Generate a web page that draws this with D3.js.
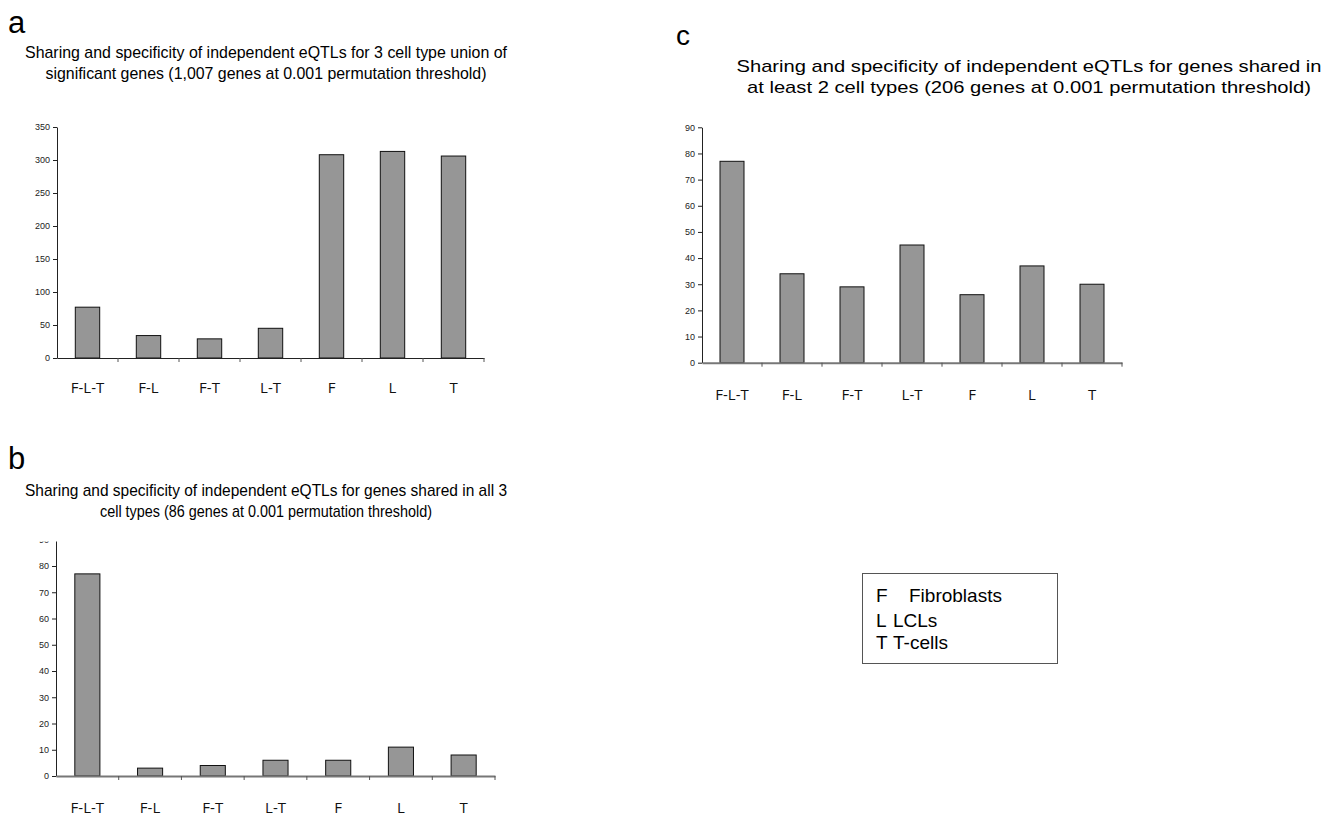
<!DOCTYPE html>
<html><head><meta charset="utf-8">
<script src="https://cdn.jsdelivr.net/npm/d3@7"></script>
<style>body{margin:0;background:#fff}</style>
</head><body>
<svg id="chart" width="1339" height="817"></svg>
<script>
const categories = ["F-L-T", "F-L", "F-T", "L-T", "F", "L", "T"];
const valuesA = [77, 34, 29, 45, 308, 313, 306];
const valuesB = [77, 3, 4, 6, 6, 11, 8];
const valuesC = [77, 34, 29, 45, 26, 37, 30];
const ticksA = [0, 50, 100, 150, 200, 250, 300, 350];
const ticksB = [0, 10, 20, 30, 40, 50, 60, 70, 80, 90];
const ticksC = [0, 10, 20, 30, 40, 50, 60, 70, 80, 90];
const titleA = ["Sharing and specificity of independent eQTLs for 3 cell type union of",
                "significant genes (1,007 genes at 0.001 permutation threshold)"];
const titleB = ["Sharing and specificity of independent eQTLs for genes shared in all 3",
                "cell types (86 genes at 0.001 permutation threshold)"];
const titleC = ["Sharing and specificity of independent eQTLs for genes shared in",
                "at least 2 cell types (206 genes at 0.001 permutation threshold)"];
const legendKeys = ["F", "L", "T"];
const legendNames = ["Fibroblasts", "LCLs", "T-cells"];

const svg = d3.select("#chart");
const defs = svg.append("defs");

const panels = [
  {id:"a", letter:"a", lx:8, ly:33, lsize:31, values:valuesA, ticks:ticksA, max:350,
   x0:57, x1:484, yTop:127, yBot:358, title:titleA, tcx:266, tb:[58,79], tw:[482,441], catY:393, clipTop:null},
  {id:"c", letter:"c", lx:676, ly:45, lsize:28, values:valuesC, ticks:ticksC, max:90,
   x0:702, x1:1122, yTop:127.3, yBot:362.7, title:titleC, tcx:1029, tb:[72,93], tw:[585,564], catY:400, clipTop:null},
  {id:"b", letter:"b", lx:8, ly:469, lsize:31, values:valuesB, ticks:ticksB, max:90,
   x0:56, x1:495, yTop:539.75, yBot:776, title:titleB, tcx:266, tb:[496,517], tw:[482,332], catY:813, clipTop:541.5}
];

function styleY(sel) {
  sel.selectAll("text").attr("font-family", "Liberation Sans, Arial, sans-serif").attr("font-size", 9).attr("fill", "#222");
  sel.selectAll("path,line").attr("stroke", "#222");
}

panels.forEach(p => {
  const g = svg.append("g");
  g.append("text").attr("x", p.lx).attr("y", p.ly).text(p.letter)
    .attr("font-family", "Liberation Sans, Arial, sans-serif").attr("font-size", p.lsize).attr("fill", "#000");
  p.title.forEach((t, i) => {
    g.append("text").attr("x", p.tcx).attr("y", p.tb[i]).attr("text-anchor", "middle")
      .attr("font-family", "Liberation Sans, Arial, sans-serif").attr("font-size", 17)
      .attr("textLength", p.tw[i]).attr("lengthAdjust", "spacingAndGlyphs")
      .attr("fill", "#000").text(t);
  });

  const xb = d3.scaleBand().domain(categories).range([p.x0, p.x1]);
  const y = d3.scaleLinear().domain([0, p.max]).range([p.yBot, p.yTop]);

  // y axis
  const ywrap = g.append("g");
  if (p.clipTop !== null) {
    defs.append("clipPath").attr("id", "clip" + p.id).append("rect")
      .attr("x", 0).attr("y", p.clipTop).attr("width", 600).attr("height", 300);
    ywrap.attr("clip-path", "url(#clip" + p.id + ")");
  }
  const yg = ywrap.append("g").attr("transform", `translate(${p.x0},0)`)
    .call(d3.axisLeft(y).tickValues(p.ticks).tickSize(4).tickSizeOuter(0).tickPadding(3));
  styleY(yg);

  // bars
  g.append("g").selectAll("rect").data(categories).join("rect")
    .attr("x", d => xb(d) + xb.bandwidth() * 0.3)
    .attr("width", xb.bandwidth() * 0.4)
    .attr("y", (d, i) => y(p.values[i]))
    .attr("height", (d, i) => y(0) - y(p.values[i]))
    .attr("fill", "#969696").attr("stroke", "#111").attr("stroke-width", 1);

  // x axis
  const xg = g.append("g").attr("transform", `translate(0,${p.yBot})`)
    .call(d3.axisBottom(xb).tickSize(0).tickPadding(p.catY - p.yBot - 11));
  xg.select(".domain").attr("stroke", p.id === "a" ? "#222" : "#777").attr("stroke-width", p.id === "a" ? 1.2 : 2);
  xg.selectAll("text").attr("font-family", "Open Sans, sans-serif").attr("font-size", 15).attr("fill", "#111");
  const bounds = categories.map(c => xb(c)).concat([p.x1]).slice(1);
  xg.append("g").selectAll("line").data(bounds).join("line")
    .attr("x1", d => d).attr("x2", d => d).attr("y1", 0).attr("y2", 4)
    .attr("stroke", "#555").attr("stroke-width", 1);
});

// legend
const lg = svg.append("g");
lg.append("rect").attr("x", 862.5).attr("y", 573.5).attr("width", 195).attr("height", 90)
  .attr("fill", "#fff").attr("stroke", "#555").attr("stroke-width", 1);
const legendY = [602, 627, 649];
lg.selectAll("text.k").data(legendKeys).join("text").attr("class", "k")
  .attr("x", 876).attr("y", (d, i) => legendY[i]).text(d => d)
  .attr("font-family", "Liberation Sans, Arial, sans-serif").attr("font-size", 19);
lg.selectAll("text.n").data(legendNames).join("text").attr("class", "n")
  .attr("x", (d, i) => i === 0 ? 909 : 893).attr("y", (d, i) => legendY[i]).text(d => d)
  .attr("font-family", "Liberation Sans, Arial, sans-serif").attr("font-size", 19);
</script>
</body></html>
